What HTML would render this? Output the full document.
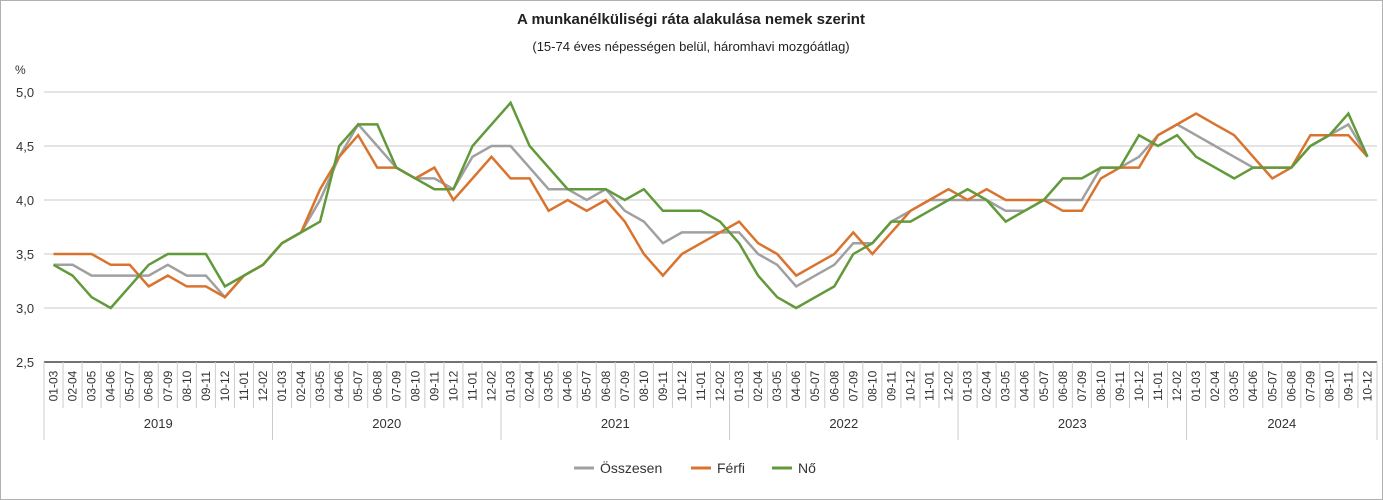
<!DOCTYPE html>
<html><head><meta charset="utf-8"><style>
body{margin:0;background:#fff;}
svg{display:block;font-family:"Liberation Sans",Arial,sans-serif;}
</style></head><body>
<svg id="chart" width="1383" height="500" viewBox="0 0 1383 500">
<rect x="0.5" y="0.5" width="1382" height="499" fill="#fff" stroke="#b0b0b0"/>
<text x="691" y="24" text-anchor="middle" font-size="15" font-weight="bold" fill="#222">A munkanélküliségi ráta alakulása nemek szerint</text>
<text x="691" y="51" text-anchor="middle" font-size="13" fill="#222">(15-74 éves népességen belül, háromhavi mozgóátlag)</text>
<text x="15" y="74" font-size="12" fill="#333">%</text>
<g id="grid"></g><g id="xaxis"></g><g id="series"></g>
<g>
<g><line x1="574" y1="468" x2="594" y2="468" stroke="#a0a0a0" stroke-width="3"/><text x="600" y="473" font-size="14" fill="#333">Összesen</text></g>
<g><line x1="691" y1="468" x2="711" y2="468" stroke="#d9742f" stroke-width="3"/><text x="717" y="473" font-size="14" fill="#333">Férfi</text></g>
<g><line x1="772" y1="468" x2="792" y2="468" stroke="#62993a" stroke-width="3"/><text x="798" y="473" font-size="14" fill="#333">Nő</text></g>
</g>
</svg>
<script>
const years=["2019","2020","2021","2022","2023","2024"];
const periods=["01-03","02-04","03-05","04-06","05-07","06-08","07-09","08-10","09-11","10-12","11-01","12-02"];
const yTicks=[2.5,3.0,3.5,4.0,4.5,5.0];
const total=[3.4,3.4,3.3,3.3,3.3,3.3,3.4,3.3,3.3,3.1,3.3,3.4,
3.6,3.7,4.0,4.4,4.7,4.5,4.3,4.2,4.2,4.1,4.4,4.5,
4.5,4.3,4.1,4.1,4.0,4.1,3.9,3.8,3.6,3.7,3.7,3.7,
3.7,3.5,3.4,3.2,3.3,3.4,3.6,3.6,3.8,3.9,4.0,4.0,
4.0,4.0,3.9,3.9,4.0,4.0,4.0,4.3,4.3,4.4,4.6,4.7,
4.6,4.5,4.4,4.3,4.3,4.3,4.5,4.6,4.7,4.4];
const male=[3.5,3.5,3.5,3.4,3.4,3.2,3.3,3.2,3.2,3.1,3.3,3.4,
3.6,3.7,4.1,4.4,4.6,4.3,4.3,4.2,4.3,4.0,4.2,4.4,
4.2,4.2,3.9,4.0,3.9,4.0,3.8,3.5,3.3,3.5,3.6,3.7,
3.8,3.6,3.5,3.3,3.4,3.5,3.7,3.5,3.7,3.9,4.0,4.1,
4.0,4.1,4.0,4.0,4.0,3.9,3.9,4.2,4.3,4.3,4.6,4.7,
4.8,4.7,4.6,4.4,4.2,4.3,4.6,4.6,4.6,4.4];
const female=[3.4,3.3,3.1,3.0,3.2,3.4,3.5,3.5,3.5,3.2,3.3,3.4,
3.6,3.7,3.8,4.5,4.7,4.7,4.3,4.2,4.1,4.1,4.5,4.7,
4.9,4.5,4.3,4.1,4.1,4.1,4.0,4.1,3.9,3.9,3.9,3.8,
3.6,3.3,3.1,3.0,3.1,3.2,3.5,3.6,3.8,3.8,3.9,4.0,
4.1,4.0,3.8,3.9,4.0,4.2,4.2,4.3,4.3,4.6,4.5,4.6,
4.4,4.3,4.2,4.3,4.3,4.3,4.5,4.6,4.8,4.4];
const NS="http://www.w3.org/2000/svg";
const X0=44,X1=1377,Y0=362,Y1=92,VMIN=2.5,VMAX=5.0;
const n=total.length;
const cw=(X1-X0)/n;
const xPos=i=>X0+cw*(i+0.5);
const yPos=v=>Y0-(v-VMIN)/(VMAX-VMIN)*(Y0-Y1);
function mk(tag,attrs,parent){const e=document.createElementNS(NS,tag);for(const k in attrs)e.setAttribute(k,attrs[k]);parent.appendChild(e);return e;}
const grid=document.getElementById('grid');
yTicks.forEach(t=>{
  if(t>VMIN){const l=mk('line',{x1:X0,x2:X1,y1:yPos(t),y2:yPos(t),stroke:'#c8c8c8','stroke-width':1},grid);
  
  }
  const tx=mk('text',{x:16,y:yPos(t)+5,'font-size':13,fill:'#333'},grid);
  tx.textContent=t.toFixed(1).replace('.',',');
  
  
});
const xa=document.getElementById('xaxis');
const ax=mk('line',{x1:X0,x2:X1,y1:Y0,y2:Y0,stroke:'#444','stroke-width':1.5},xa);


for(let i=0;i<n;i++){
  const p=periods[i%12];
  const xl=X0+cw*i;
  const isYear=i%12===0;
  const sep=mk('line',{x1:xl,x2:xl,y1:Y0,y2:isYear?440:408,stroke:'#ccc','stroke-width':1},xa);
  
  
  const cx=xPos(i)+4;
  const t=mk('text',{x:cx,y:386,'font-size':12,fill:'#333','text-anchor':'middle',transform:`rotate(-90 ${cx} 386)`,dy:0},xa);
  t.textContent=p;
  
  
}
const endSep=mk('line',{x1:X1,x2:X1,y1:Y0,y2:440,stroke:'#ccc','stroke-width':1},xa);


years.forEach((y,k)=>{
  const start=k*12,end=Math.min(n,start+12);
  const cx=X0+cw*(start+end)/2;
  const t=mk('text',{x:cx,y:428,'font-size':13,fill:'#333','text-anchor':'middle'},xa);
  t.textContent=y;
  
  
});
const sg=document.getElementById('series');
[[total,'#a0a0a0','series-osszesen'],[male,'#d9742f','series-ferfi'],[female,'#62993a','series-no']].forEach(([d,c,nm])=>{
  const pts=d.map((v,i)=>xPos(i).toFixed(1)+','+yPos(v).toFixed(1)).join(' ');
  const pl=mk('polyline',{points:pts,fill:'none',stroke:c,'stroke-width':2.5,'stroke-linejoin':'miter'},sg);
  
  
});
</script>
</body></html>
